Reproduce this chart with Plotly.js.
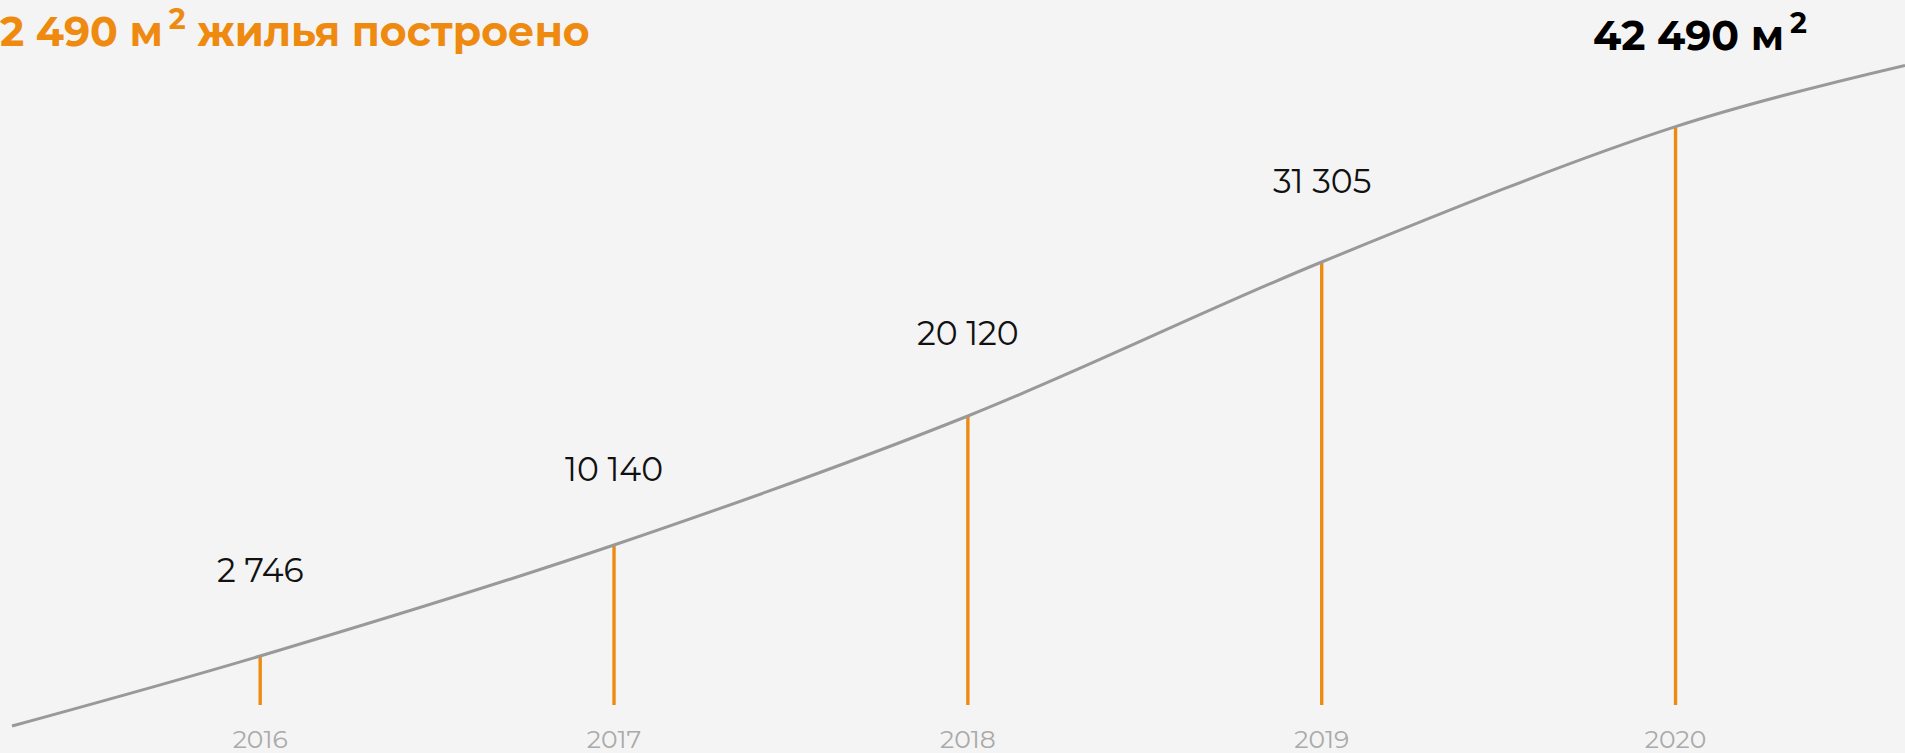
<!DOCTYPE html>
<html>
<head>
<meta charset="utf-8">
<script src="https://cdn.plot.ly/plotly-3.0.1.min.js"></script>
<style>html,body{margin:0;padding:0;background:#f4f4f4;}#chart{width:1905px;height:753px;}</style>
</head>
<body>
<div id="chart"></div>
<script>
// Years (categories) and built area, m² (cumulative)
const years = [2016, 2017, 2018, 2019, 2020];
const built = [2746, 10140, 20120, 31305, 42490];
const yearLabels = ["2016", "2017", "2018", "2019", "2020"];
// Decorative trend curve (same units as built)
const trendX = [2015.2986, 2016, 2017, 2018, 2019, 2020, 2020.6485];
const trendY = [-1543, 3600, 11755, 21233, 32547, 42490, 46990];
// level of the trend curve at each year (bar tops)
const barTops = [3600, 11755, 21233, 32547, 42490];
const titleText = "2 490 м\u2009<sup>2</sup> жилья построено";
const unit = " м\u2009<sup>2</sup>";

const FONT = "Montserrat, Inter, 'Open Sans', sans-serif";
const ORANGE = "#ee8a10";

function fmt(v){ return String(v).replace(/\B(?=(\d{3})+(?!\d))/g, " "); }

const traces = [
  {
    type: "bar", x: years, y: barTops, base: 0, width: 0.0095,
    marker: {color: ORANGE, line: {width: 0}}, hoverinfo: "skip"
  },
  {
    type: "scatter", mode: "lines", x: trendX, y: trendY,
    line: {color: "#999999", width: 3, shape: "spline", smoothing: 1.0},
    hoverinfo: "skip"
  }
];

const annotations = years.map((yr, i) => {
  const last = i === years.length - 1;
  return {
    x: yr, y: built[i], xref: "x", yref: "y",
    text: last ? fmt(built[i]) + unit : fmt(built[i]),
    showarrow: false, yshift: last ? 94 : 98, xshift: last ? 24 : 0,
    xanchor: "center", yanchor: "middle",
    font: {family: FONT, size: last ? 41 : 33, color: last ? "#000" : "#111", weight: last ? 700 : 400}
  };
});

const layout = {
  width: 1905, height: 753,
  margin: {l: 0, r: 0, t: 0, b: 0},
  paper_bgcolor: "#f4f4f4", plot_bgcolor: "#f4f4f4",
  showlegend: false,
  title: {
    text: titleText, x: 0, xanchor: "left", xref: "paper",
    y: 0.958, yanchor: "middle", yref: "container",
    font: {family: FONT, size: 41, color: ORANGE, weight: 700}
  },
  xaxis: {
    range: [2015.2647, 2020.6485], showgrid: false, zeroline: false, showline: false,
    tickvals: years, ticktext: yearLabels, ticks: "", ticklabelposition: "inside",
    ticklabelstandoff: -3,
    tickfont: {family: FONT, size: 25, color: "#aaaaaa"}, fixedrange: true
  },
  yaxis: {
    range: [-3527, 51796], visible: false, showgrid: false, zeroline: false, fixedrange: true
  },
  annotations: annotations
};

Plotly.newPlot("chart", traces, layout, {displayModeBar: false, staticPlot: true});
</script>
</body>
</html>
